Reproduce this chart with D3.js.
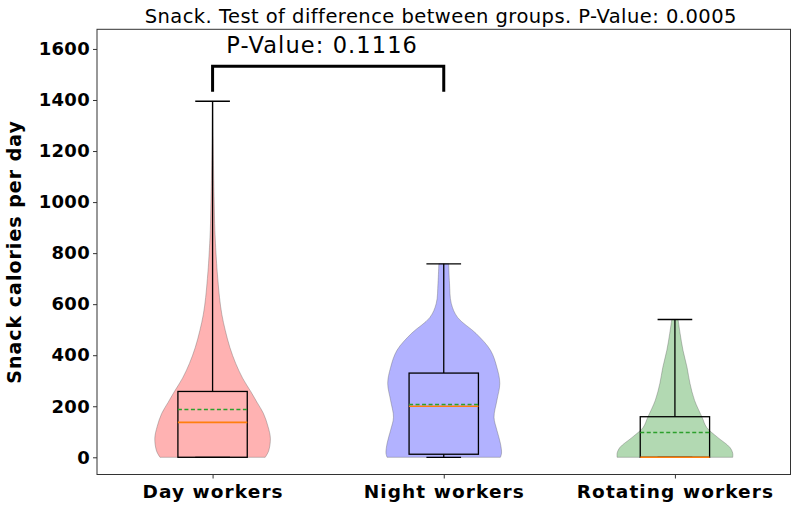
<!DOCTYPE html>
<html>
<head>
<meta charset="utf-8">
<script src="https://cdn.jsdelivr.net/npm/d3@7"></script>
<style>
  body { margin: 0; background: #fff; }
  svg { display: block; }
  text { font-family: "DejaVu Sans", sans-serif; }
</style>
</head>
<body>
<svg id="chart" width="800" height="510"></svg>
<script>
// ---------------- data ----------------
const categories = ["Day workers", "Night workers", "Rotating workers"];
const violinColors = ["#ff0000", "#0000ff", "#008000"];

// density profiles (value, relative half-width)
const dayDensityValues   = [0, 25, 74, 120, 172, 215, 258, 310, 368, 430, 497, 560, 626, 700, 759, 888, 1000, 1084, 1250, 1395];
const dayDensityWidths   = [0.91, 0.97, 1.0, 0.96, 0.88, 0.77, 0.66, 0.52, 0.40, 0.30, 0.22, 0.16, 0.12, 0.09, 0.07, 0.04, 0.028, 0.02, 0.01, 0.004];
const nightDensityValues = [0, 16, 55, 106, 157, 223, 290, 352, 419, 485, 548, 603, 681, 758];
const nightDensityWidths = [0.98, 1.0, 0.98, 0.92, 0.87, 0.92, 0.97, 0.92, 0.81, 0.56, 0.24, 0.13, 0.10, 0.085];
const rotDensityValues   = [0, 16, 39, 78, 117, 157, 223, 290, 352, 419, 485, 540];
const rotDensityWidths   = [1.0, 1.0, 0.95, 0.74, 0.55, 0.47, 0.34, 0.26, 0.21, 0.14, 0.09, 0.055];

// box statistics
const q1Values      = [0, 12, 0];
const medianValues  = [137, 200, 0];
const q3Values      = [258, 330, 159];
const meanValues    = [188, 209, 98];
const whiskerLow    = [0, 0, 0];
const whiskerHigh   = [1395, 758, 540];

const yTicks = [0, 200, 400, 600, 800, 1000, 1200, 1400, 1600];

const titleText = "Snack. Test of difference between groups. P-Value: 0.0005";
const yLabelText = "Snack calories per day";
const pairText = "P-Value: 0.1116";
const pairGroups = [0, 1];
const pairBracketTop = 1532;
const pairBracketBottom = 1432;
const pairTextValue = 1584;

// ---------------- layout ----------------
const svg = d3.select("#chart");
const L = 97, R = 790.5, T = 29.3, B = 474.5;

const x = d3.scaleLinear().domain([0.5, 3.5]).range([L, R]);
const y = d3.scaleLinear().domain([-67.4, 1677]).range([B, T]);

const violinHalf = 0.25, boxHalf = 0.15, capHalf = 0.075;

const densities = [
  dayDensityValues.map((v, i) => ({v, w: dayDensityWidths[i]})),
  nightDensityValues.map((v, i) => ({v, w: nightDensityWidths[i]})),
  rotDensityValues.map((v, i) => ({v, w: rotDensityWidths[i]}))
];

// violins
densities.forEach((d, i) => {
  const pos = i + 1;
  const area = d3.area()
    .y(p => y(p.v))
    .x0(p => x(pos - p.w * violinHalf))
    .x1(p => x(pos + p.w * violinHalf))
    .curve(d3.curveCatmullRom);
  svg.append("path")
    .attr("d", area(d))
    .attr("fill", violinColors[i])
    .attr("fill-opacity", 0.3)
    .attr("stroke", "#555")
    .attr("stroke-opacity", 0.35)
    .attr("stroke-width", 1);
});

// boxes
categories.forEach((c, i) => {
  const pos = i + 1;
  const g = svg.append("g");
  g.append("line").attr("x1", x(pos)).attr("x2", x(pos))
    .attr("y1", y(q3Values[i])).attr("y2", y(whiskerHigh[i]))
    .attr("stroke", "#000").attr("stroke-width", 1.3);
  g.append("line").attr("x1", x(pos)).attr("x2", x(pos))
    .attr("y1", y(q1Values[i])).attr("y2", y(whiskerLow[i]))
    .attr("stroke", "#000").attr("stroke-width", 1.3);
  [whiskerHigh[i], whiskerLow[i]].forEach(v => {
    g.append("line").attr("x1", x(pos - capHalf)).attr("x2", x(pos + capHalf))
      .attr("y1", y(v)).attr("y2", y(v))
      .attr("stroke", "#000").attr("stroke-width", 1.3);
  });
  g.append("rect")
    .attr("x", x(pos - boxHalf)).attr("width", x(pos + boxHalf) - x(pos - boxHalf))
    .attr("y", y(q3Values[i])).attr("height", y(q1Values[i]) - y(q3Values[i]))
    .attr("fill", "none").attr("stroke", "#000").attr("stroke-width", 1.3);
  g.append("line").attr("x1", x(pos - boxHalf)).attr("x2", x(pos + boxHalf))
    .attr("y1", y(medianValues[i])).attr("y2", y(medianValues[i]))
    .attr("stroke", "#ff7f0e").attr("stroke-width", 1.6);
  g.append("line").attr("x1", x(pos - boxHalf)).attr("x2", x(pos + boxHalf))
    .attr("y1", Math.round(y(meanValues[i])) + 0.5).attr("y2", Math.round(y(meanValues[i])) + 0.5)
    .attr("stroke", "#2ca02c").attr("stroke-width", 1.4)
    .attr("stroke-dasharray", "4,2.5");
});

// bracket
const bx1 = x(pairGroups[0] + 1), bx2 = x(pairGroups[1] + 1);
svg.append("path")
  .attr("d", `M${bx1},${y(pairBracketBottom)}V${y(pairBracketTop)}H${bx2}V${y(pairBracketBottom)}`)
  .attr("fill", "none").attr("stroke", "#000").attr("stroke-width", 3);
svg.append("text")
  .attr("x", (bx1 + bx2) / 2 - 6).attr("y", y(pairTextValue))
  .attr("text-anchor", "middle").attr("font-size", 22.5).attr("letter-spacing", 1.1)
  .attr("fill", "#000")
  .text(pairText);

// axes
const yAxis = d3.axisLeft(y).tickValues(yTicks).tickFormat(d3.format("d")).tickSize(4).tickPadding(3);
const gy = svg.append("g").attr("transform", `translate(${L},0)`).call(yAxis);
gy.select(".domain").remove();
gy.selectAll("text").attr("font-size", 18).attr("font-weight", "bold")
  .attr("letter-spacing", 0.3)
  .attr("font-family", "DejaVu Sans").attr("fill", "#000");
gy.selectAll("line").attr("stroke", "#333");

const xAxis = d3.axisBottom(x).tickValues([1, 2, 3]).tickFormat((d, i) => categories[i]).tickSize(4).tickPadding(6);
const gx = svg.append("g").attr("transform", `translate(0,${B})`).call(xAxis);
gx.select(".domain").remove();
gx.selectAll("text").attr("font-size", 18.5).attr("font-weight", "bold")
  .attr("letter-spacing", 1.1)
  .attr("font-family", "DejaVu Sans").attr("fill", "#000");
gx.selectAll("line").attr("stroke", "#333");

// frame
svg.append("rect").attr("x", L).attr("y", T).attr("width", R - L).attr("height", B - T)
  .attr("fill", "none").attr("stroke", "#333").attr("stroke-width", 1);

// title
svg.append("text").attr("x", (L + R) / 2 - 3).attr("y", 22.5)
  .attr("text-anchor", "middle").attr("font-size", 19.5).attr("letter-spacing", 0.45)
  .attr("fill", "#000")
  .text(titleText);

// y label
svg.append("text")
  .attr("transform", `translate(21,${(T + B) / 2}) rotate(-90)`)
  .attr("text-anchor", "middle").attr("font-size", 19).attr("font-weight", "bold")
  .attr("letter-spacing", 1.0)
  .attr("fill", "#000")
  .text(yLabelText);
</script>
</body>
</html>
